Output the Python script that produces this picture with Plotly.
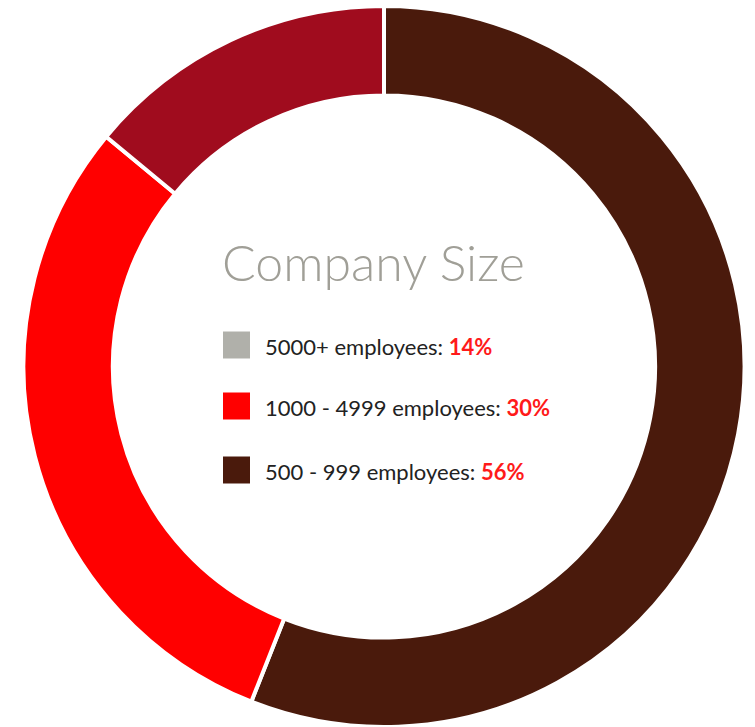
import plotly.graph_objects as go

# Data
categories = ["500 - 999 employees", "1000 - 4999 employees", "5000+ employees"]
values = [56, 30, 14]
slice_colors = ["#4A1A0C", "#FF0000", "#A00C1E"]

legend_labels = ["5000+ employees", "1000 - 4999 employees", "500 - 999 employees"]
legend_values = [14, 30, 56]
legend_colors = ["#B0B0AA", "#FF0000", "#4A1A0C"]

W, H = 755, 727
cx, cy, R = 384, 367, 361

fig = go.Figure(go.Pie(
    labels=categories,
    values=values,
    sort=False,
    direction="clockwise",
    rotation=0,
    hole=0.752,
    marker=dict(colors=slice_colors, line=dict(color="white", width=4)),
    textinfo="none",
    hoverinfo="label+percent",
    showlegend=False,
    domain=dict(x=[(cx - R) / W, (cx + R) / W], y=[max(0, 1 - (cy + R) / H), 1 - (cy - R) / H]),
))

# Center title
fig.add_annotation(
    x=373 / W, y=1 - 262 / H, xref="paper", yref="paper",
    text="Company Size", showarrow=False, xanchor="center", yanchor="middle",
    font=dict(family="Lato", size=50, color="#A09F97", weight=300),
)

row_y = [345, 406, 470]
for lab, val, col, yy in zip(legend_labels, legend_values, legend_colors, row_y):
    fig.add_shape(type="rect", xref="paper", yref="paper",
                  x0=223 / W, x1=250 / W, y0=1 - (yy + 13.5) / H, y1=1 - (yy - 13.5) / H,
                  fillcolor=col, line=dict(width=0))
    fig.add_annotation(
        x=263 / W, y=1 - (yy + 1) / H, xref="paper", yref="paper",
        text=f"{lab}: <b><span style='color:#FF1A1A'>{val}%</span></b>",
        showarrow=False, xanchor="left", yanchor="middle",
        font=dict(family="Lato", size=22, color="#222222"),
    )

fig.update_layout(
    width=W, height=H,
    margin=dict(l=0, r=0, t=0, b=0),
    paper_bgcolor="white", plot_bgcolor="white",
)

fig.write_html("out.html", config={"displayModeBar": False},
               post_script="document.body.style.margin='0';document.body.style.overflow='hidden';")
